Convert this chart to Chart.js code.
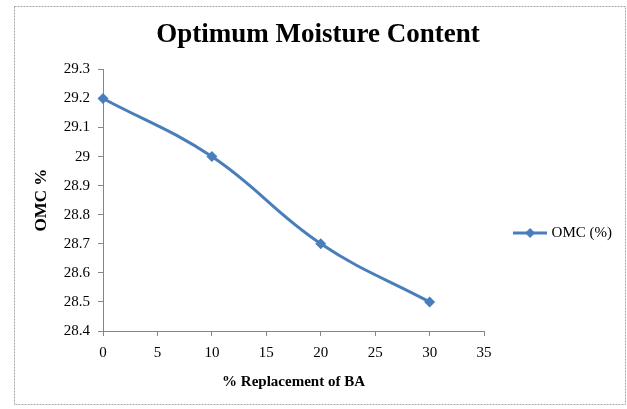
<!DOCTYPE html>
<html>
<head>
<meta charset="utf-8">
<script src="https://cdn.jsdelivr.net/npm/chart.js@4/dist/chart.umd.min.js"></script>
<style>
  html, body { margin: 0; padding: 0; background: #ffffff; }
  #wrap { width: 627px; height: 409px; }
</style>
</head>
<body>
<div id="wrap"><canvas id="c" width="627" height="409"></canvas></div>
<script>
// Replacement levels (%) and measured optimum moisture content (%)
const replacement = [0, 10, 20, 30];
const omc = [29.2, 29.0, 28.7, 28.5];
const seriesName = 'OMC (%)';

// Axis ticks
const xTicks = [0, 5, 10, 15, 20, 25, 30, 35];
const yTicks = [28.4, 28.5, 28.6, 28.7, 28.8, 28.9, 29, 29.1, 29.2, 29.3];

const LINE_BLUE = '#4A7EBB';
const AXIS_GREY = '#868686';
const SERIF = "'Liberation Serif', 'Times New Roman', serif";

// Legend swatch: short line with a diamond marker
function legendSwatch() {
  const cv = document.createElement('canvas');
  cv.width = 34; cv.height = 12;
  const g = cv.getContext('2d');
  g.strokeStyle = LINE_BLUE;
  g.lineWidth = 3;
  g.beginPath(); g.moveTo(0, 6); g.lineTo(34, 6); g.stroke();
  g.fillStyle = LINE_BLUE;
  g.beginPath(); g.moveTo(17, 1); g.lineTo(22, 6); g.lineTo(17, 11); g.lineTo(12, 6); g.closePath(); g.fill();
  return cv;
}

// Dashed outer frame and white background
const framePlugin = {
  id: 'frame',
  beforeDraw(chart) {
    const ctx = chart.ctx;
    ctx.save();
    ctx.fillStyle = '#ffffff';
    ctx.fillRect(0, 0, chart.width, chart.height);
    ctx.strokeStyle = '#a6a6a6';
    ctx.lineWidth = 1;
    ctx.setLineDash([2, 1]);
    ctx.strokeRect(14.5, 6.5, 611, 398);
    ctx.restore();
  }
};

// Nudge the legend downward within its column
const legendShift = {
  id: 'legendShift',
  afterLayout(chart) {
    if (chart.legend) chart.legend.top += 56;
  }
};

const fixedTicks = (values) => (scale) => {
  scale.ticks = values.map(v => ({ value: v }));
};

new Chart(document.getElementById('c'), {
  type: 'line',
  data: {
    datasets: [{
      label: seriesName,
      data: replacement.map((x, i) => ({ x: x, y: omc[i] })),
      borderColor: LINE_BLUE,
      backgroundColor: LINE_BLUE,
      borderWidth: 3,
      tension: 0.4,
      pointStyle: 'rectRot',
      pointRadius: 5.5,
      pointHoverRadius: 5.5,
      pointBorderWidth: 0,
      fill: false,
      clip: false
    }]
  },
  options: {
    responsive: false,
    animation: false,
    layout: { padding: { left: 14, top: 6, right: 5, bottom: 5 } },
    plugins: {
      title: {
        display: true,
        text: 'Optimum Moisture Content',
        color: '#000000',
        font: { family: SERIF, size: 27, weight: 'bold' },
        padding: { top: 13, bottom: 18 }
      },
      legend: {
        position: 'right',
        align: 'center',
        labels: {
          color: '#000000',
          font: { family: SERIF, size: 15 },
          padding: 32,
          usePointStyle: true,
          pointStyleWidth: 28,
          generateLabels(chart) {
            const ds = chart.data.datasets[0];
            return [{
              text: ds.label,
              pointStyle: legendSwatch(),
              fillStyle: LINE_BLUE,
              strokeStyle: LINE_BLUE,
              lineWidth: 0,
              datasetIndex: 0,
              fontColor: '#000000'
            }];
          }
        }
      },
      tooltip: { enabled: false }
    },
    scales: {
      x: {
        type: 'linear',
        min: 0,
        max: 35,
        afterBuildTicks: fixedTicks(xTicks),
        afterFit(scale) { scale.height = 73; },
        grid: {
          display: true,
          drawOnChartArea: false,
          drawTicks: true,
          tickLength: 5,
          color: AXIS_GREY
        },
        border: { display: true, color: AXIS_GREY, width: 1 },
        ticks: {
          color: '#000000',
          font: { family: SERIF, size: 15 },
          padding: 8,
          maxRotation: 0,
          callback: (v) => String(v)
        },
        title: {
          display: true,
          text: '% Replacement of BA',
          color: '#000000',
          font: { family: SERIF, size: 15, weight: 'bold' },
          padding: { top: 0, bottom: 13 }
        }
      },
      y: {
        type: 'linear',
        min: 28.4,
        max: 29.3,
        afterBuildTicks: fixedTicks(yTicks),
        afterFit(scale) { scale.width = 89; },
        grid: {
          display: true,
          drawOnChartArea: false,
          drawTicks: true,
          tickLength: 5,
          color: AXIS_GREY
        },
        border: { display: true, color: AXIS_GREY, width: 1 },
        ticks: {
          color: '#000000',
          font: { family: SERIF, size: 15 },
          padding: 8,
          callback: (v) => String(Math.round(v * 10) / 10)
        },
        title: {
          display: true,
          text: 'OMC %',
          color: '#000000',
          font: { family: SERIF, size: 17, weight: 'bold' },
          padding: { top: 17, bottom: 0 }
        }
      }
    }
  },
  plugins: [framePlugin, legendShift]
});
</script>
</body>
</html>
